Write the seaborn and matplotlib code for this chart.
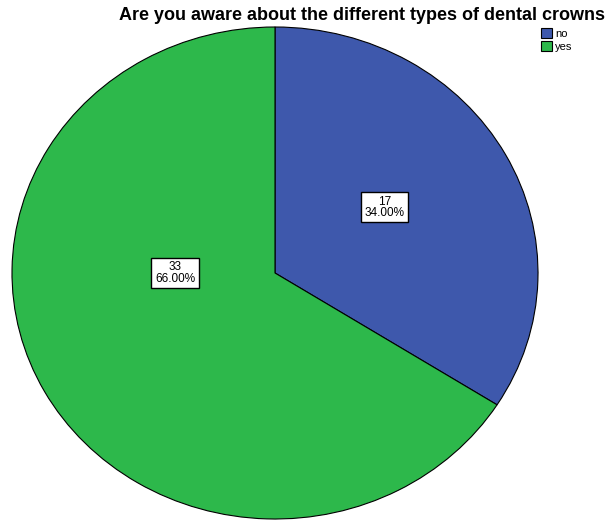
import matplotlib
matplotlib.use("Agg")
import matplotlib.pyplot as plt
import seaborn as sns
from matplotlib.patches import Patch

sns.set_theme(style="white")
plt.rcParams['font.family'] = ['Liberation Sans', 'DejaVu Sans']
plt.rcParams['text.color'] = 'black'

categories = ["no", "yes"]
counts = [17, 33]
colors = ["#3E58AC", "#2DB84B"]
title = "Are you aware about the different types of dental crowns"

# label anchor points in axes units (radius 1 pie)
label_xy = [(0.418, 0.268), (-0.38, 0.0)]

total = sum(counts)
fig = plt.figure(figsize=(6.09, 5.20), dpi=100)
ax = fig.add_axes([12 / 609, 1 / 520, 526 / 609, 492 / 520])
wedges, _ = ax.pie(counts, colors=colors, startangle=90, counterclock=False,
                   wedgeprops=dict(edgecolor="black", linewidth=0.8))
ax.set_aspect("auto")
ax.set_xlim(-1, 1)
ax.set_ylim(-1, 1)
ax.axis("off")

for (x, y), c in zip(label_xy, counts):
    ax.text(x, y, f"{c}\n{c / total * 100:.2f}%", ha="center", va="center",
            fontsize=8.5, linespacing=0.9, color="black",
            bbox=dict(boxstyle="square,pad=0.3", facecolor="white",
                      edgecolor="black", linewidth=1.0))

fig.text(362 / 609, 1 - 15 / 520, title, ha="center", va="center",
         fontsize=13, fontweight="bold", color="black")

handles = [Patch(facecolor=col, edgecolor="black", linewidth=0.8, label=cat)
           for cat, col in zip(categories, colors)]
fig.legend(handles=handles, loc="upper left", bbox_to_anchor=(541 / 609, 1 - 28 / 520),
           frameon=False, fontsize=8, handlelength=0.95, handleheight=0.95,
           handletextpad=0.35, labelspacing=0.25, borderpad=0, borderaxespad=0)

fig.savefig("out.png", dpi=100)
